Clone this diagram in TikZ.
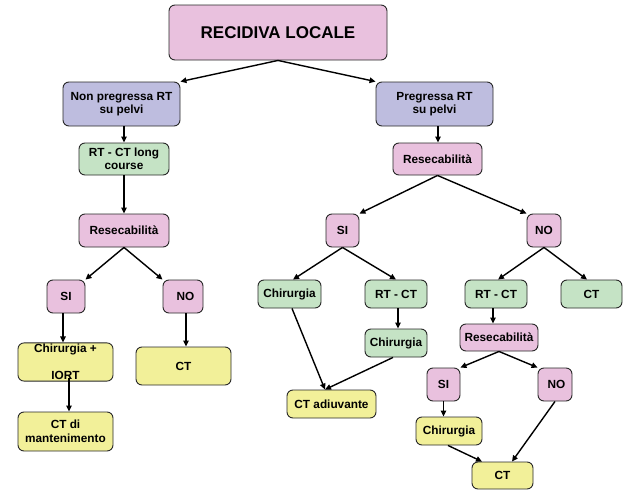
\documentclass[tikz,border=0pt]{standalone}
\usepackage{fontspec}
\setmainfont{Liberation Sans}
\usetikzlibrary{arrows.meta}

\definecolor{rosa}{RGB}{233,193,222}
\definecolor{lilla}{RGB}{190,189,223}
\definecolor{verde}{RGB}{197,227,197}
\definecolor{giallo}{RGB}{242,240,153}

\tikzset{every picture/.style={line width=0.75pt}}
\tikzset{
  box/.style={draw={rgb,255:red,40;green,40;blue,40},line width=0.9pt,rounded corners=6pt,inner sep=1pt,align=center,
    font=\fontsize{11.8}{13.5}\selectfont\bfseries},
  boxrosa/.style={box,fill=rosa},
  boxlilla/.style={box,fill=lilla},
  boxverde/.style={box,fill=verde},
  boxgiallo/.style={box,fill=giallo},
  freccia/.style={line width=1.4pt,-{Triangle[length=6pt,width=5.5pt]}}
}

\begin{document}
\begin{tikzpicture}[x=1pt,y=1pt,yscale=-1,xscale=1]
\useasboundingbox (0,0) rectangle (625,490);

% Text Node
\node (top) [boxrosa,minimum width=218pt,minimum height=55pt,font=\fontsize{17}{20}\selectfont\bfseries] at (278,32.5) {RECIDIVA LOCALE};

% ramo sinistro
\node (np) [boxlilla,minimum width=117pt,minimum height=44pt] at (121.5,104) {Non pregressa RT\\su pelvi};
\node (rtctA) [boxverde,minimum width=90pt,minimum height=32pt] at (124,159) {RT - CT long\\course};
\node (resA) [boxrosa,minimum width=90pt,minimum height=33pt] at (124,230.5) {Resecabilità};
\node (siA) [boxrosa,minimum width=38pt,minimum height=33pt] at (66,296.5) {SI};
\node (noA) [boxrosa,minimum width=40pt,minimum height=33pt] at (183,296.5) {\hspace{5pt}NO};
\node (chirA) [boxgiallo,minimum width=95pt,minimum height=38pt] at (65.5,362) {\raisebox{3pt}{Chirurgia +}\\[8pt]\raisebox{-3pt}{IORT}};
\node (ctA) [boxgiallo,minimum width=95pt,minimum height=38pt] at (183.5,366) {CT};
\node (ctmant) [boxgiallo,minimum width=95pt,minimum height=39pt] at (65.5,431.5) {CT di\\mantenimento};

% ramo destro
\node (pr) [boxlilla,minimum width=117pt,minimum height=44pt] at (434.5,104) {Pregressa RT\\su pelvi};
\node (resB) [boxrosa,minimum width=89pt,minimum height=32pt] at (437.5,159) {Resecabilità};
\node (siB) [boxrosa,minimum width=33pt,minimum height=33pt] at (342.5,230.5) {SI};
\node (noB) [boxrosa,minimum width=34pt,minimum height=33pt] at (544,230.5) {NO};
\node (chirB) [boxverde,minimum width=63pt,minimum height=28pt] at (289.5,294) {Chirurgia};
\node (rtctB) [boxverde,minimum width=62pt,minimum height=28pt] at (396,294) {RT - CT};
\node (chirC) [boxverde,minimum width=62pt,minimum height=28pt] at (396,343) {Chirurgia};
\node (ctadiu) [boxgiallo,minimum width=89pt,minimum height=28pt] at (331.5,404) {CT adiuvante};
\node (rtctC) [boxverde,minimum width=62pt,minimum height=28pt] at (496,294) {RT - CT};
\node (ctC) [boxverde,minimum width=61pt,minimum height=28pt] at (591.5,294) {CT};
\node (resC) [boxrosa,minimum width=78pt,minimum height=27pt] at (499,337.5) {Resecabilità};
\node (siC) [boxrosa,minimum width=33pt,minimum height=33pt] at (443.5,384.5) {SI};
\node (noC) [boxrosa,minimum width=34pt,minimum height=33pt] at (555,384.5) {\hspace{3pt}NO};
\node (chirD) [boxgiallo,minimum width=66pt,minimum height=28pt] at (449,431) {Chirurgia};
\node (ctD) [boxgiallo,minimum width=61pt,minimum height=27pt] at (502.5,475.5) {CT};

% Straight Lines
\draw [freccia] (top.south) -- (np.north east);
\draw [freccia] (top.south) -- (pr.north west);
\draw [freccia] (rtctA.north |- np.south) -- (rtctA.north);
\draw [freccia] (rtctA.south) -- (resA.north);
\draw [freccia] (resA.south) -- (siA.north east);
\draw [freccia] (resA.south) -- (noA.north west);
\draw [freccia] ([xshift=-3pt]siA.south) -- ([xshift=-3pt]siA.south |- chirA.north);
\draw [freccia] ([xshift=3pt]noA.south) -- ([xshift=3pt]noA.south |- ctA.north);
\draw [freccia] ([xshift=3.5pt,yshift=-4pt]chirA.south) -- ([xshift=3.5pt]ctmant.north);

\draw [freccia] ([xshift=3.5pt]pr.south) -- ([xshift=0.5pt]resB.north);
\draw [freccia] (resB.south) -- (siB.north east);
\draw [freccia] (resB.south) -- (noB.north west);
\draw [freccia] (siB.south) -- ([xshift=3.5pt]chirB.north);
\draw [freccia] (siB.south) -- (rtctB.north);
\draw [freccia] ([xshift=2pt]rtctB.south) -- ([xshift=2pt]chirC.north);
\draw [freccia] ([xshift=2.5pt]chirB.south) -- ([xshift=-6.5pt]ctadiu.north);
\draw [freccia] ([xshift=-3pt]chirC.south) -- ([xshift=-6.5pt]ctadiu.north);
\draw [freccia] (noB.south) -- ([xshift=2pt]rtctC.north);
\draw [freccia] (noB.south) -- ([xshift=-4.5pt]ctC.north);
\draw [freccia] ([xshift=-3pt]rtctC.south) -- ([xshift=-3pt]rtctC.south |- resC.north);
\draw [freccia] (resC.south) -- (siC.north east);
\draw [freccia] (resC.south) -- (noC.north west);
\draw [freccia] (siC.south) -- (siC.south |- chirD.north);
\draw [freccia] ([xshift=-1pt]chirD.south) -- ([xshift=-20.5pt]ctD.north);
\draw [freccia] (noC.south) -- ([xshift=9.5pt]ctD.north);

\end{tikzpicture}
\end{document}
